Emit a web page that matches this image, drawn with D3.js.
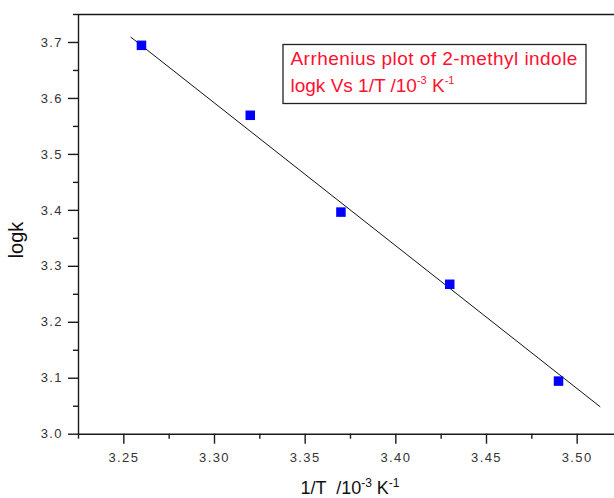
<!DOCTYPE html>
<html>
<head>
<meta charset="utf-8">
<script src="https://cdn.jsdelivr.net/npm/d3@7"></script>
<style>
  html, body { margin: 0; padding: 0; background: #fff; }
  svg { display: block; font-family: "Liberation Sans", Arial, sans-serif; }
  .pre { white-space: pre; }
</style>
</head>
<body>
<svg id="chart" width="614" height="498"></svg>
<script>
// Measured data: 1/T (10^-3 K^-1) vs log k
const invT = [3.26, 3.32, 3.37, 3.43, 3.49];
const logk = [3.694, 3.569, 3.396, 3.267, 3.094];

// Linear fit line endpoints
const fitX = [3.254, 3.513];
const fitY = [3.709, 3.048];

// Tick values
const xMajor = [3.25, 3.30, 3.35, 3.40, 3.45, 3.50];
const xMinor = [3.225, 3.275, 3.325, 3.375, 3.425, 3.475, 3.525];
const yMajor = [3.0, 3.1, 3.2, 3.3, 3.4, 3.5, 3.6, 3.7];
const yMinor = [3.05, 3.15, 3.25, 3.35, 3.45, 3.55, 3.65, 3.75];

const svg = d3.select("#chart");
const plotL = 78, plotR = 622, plotT = 14, plotB = 433.7;

const x = d3.scaleLinear().domain([3.225, 3.525]).range([plotL, plotR]);
const y = d3.scaleLinear().domain([3.0, 3.75]).range([plotB, plotT]);

const axisColor = "#1a1a1a";
const labelColor = "#333";

// Frame: top edge
svg.append("line")
  .attr("x1", plotL).attr("x2", plotR)
  .attr("y1", plotT + 0.5).attr("y2", plotT + 0.5)
  .attr("stroke", axisColor).attr("stroke-width", 1.3);

// Bottom axis
const gx = svg.append("g").attr("transform", `translate(0,${plotB})`);
gx.call(d3.axisBottom(x).tickValues(xMajor).tickSize(10).tickSizeOuter(0)
  .tickFormat(d3.format(".2f")));
gx.append("g").call(d3.axisBottom(x).tickValues(xMinor).tickSize(5).tickFormat(""))
  .select(".domain").remove();

// Left axis
const gy = svg.append("g").attr("transform", `translate(${plotL},0)`);
gy.call(d3.axisLeft(y).tickValues(yMajor).tickSize(10).tickSizeOuter(0)
  .tickFormat(d3.format(".1f")));
gy.append("g").call(d3.axisLeft(y).tickValues(yMinor).tickSize(5).tickFormat(""))
  .select(".domain").remove();

svg.selectAll(".domain").attr("stroke", axisColor).attr("stroke-width", 1.4);
svg.selectAll(".tick line").attr("stroke", axisColor).attr("stroke-width", 1.4);
svg.selectAll(".tick text")
  .attr("fill", labelColor)
  .style("font-size", "13px")
  .style("letter-spacing", "1.4px")
  .style("font-family", "'Liberation Sans', Arial, sans-serif");
gx.selectAll(".tick text").attr("dy", "1.15em");
gy.selectAll(".tick text").attr("x", -15);

// Axis titles
svg.append("text")
  .attr("transform", "translate(23,240) rotate(-90)")
  .attr("text-anchor", "middle")
  .attr("fill", "#111")
  .style("font-size", "20px")
  .text("logk");

const xt = svg.append("text")
  .attr("class", "pre")
  .attr("x", 350).attr("y", 494)
  .attr("text-anchor", "middle")
  .attr("fill", "#111")
  .style("font-size", "18px");
xt.append("tspan").text("1/T  /10");
xt.append("tspan").attr("dy", -7).style("font-size", "12px").text("-3");
xt.append("tspan").attr("dy", 7).text(" K");
xt.append("tspan").attr("dy", -7).style("font-size", "12px").text("-1");

// Fit line
const line = d3.line().x((d, i) => x(fitX[i])).y(d => y(d));
svg.append("path")
  .datum(fitY)
  .attr("d", line)
  .attr("fill", "none")
  .attr("stroke", "#111")
  .attr("stroke-width", 1);

// Data points (blue squares)
const sz = 9.5;
svg.append("g").selectAll("rect")
  .data(invT.map((v, i) => [v, logk[i]]))
  .join("rect")
  .attr("x", d => x(d[0]) - sz / 2)
  .attr("y", d => y(d[1]) - sz / 2)
  .attr("width", sz).attr("height", sz)
  .attr("fill", "#0000ff");

// Annotation box
svg.append("rect")
  .attr("x", 283).attr("y", 44.5)
  .attr("width", 303).attr("height", 59)
  .attr("fill", "#fff")
  .attr("stroke", "#222").attr("stroke-width", 1.3);

const note = svg.append("g").attr("fill", "#ff1030").style("font-size", "19px");
note.append("text").attr("x", 290.5).attr("y", 64.5)
  .style("letter-spacing", "0.45px")
  .text("Arrhenius plot of 2-methyl indole");
const n2 = note.append("text").attr("class", "pre").attr("x", 290.5).attr("y", 92);
n2.append("tspan").text("logk Vs 1/T /10");
n2.append("tspan").attr("dy", -8).style("font-size", "11px").text("-3");
n2.append("tspan").attr("dy", 8).text(" K");
n2.append("tspan").attr("dy", -8).style("font-size", "11px").text("-1");
</script>
</body>
</html>
